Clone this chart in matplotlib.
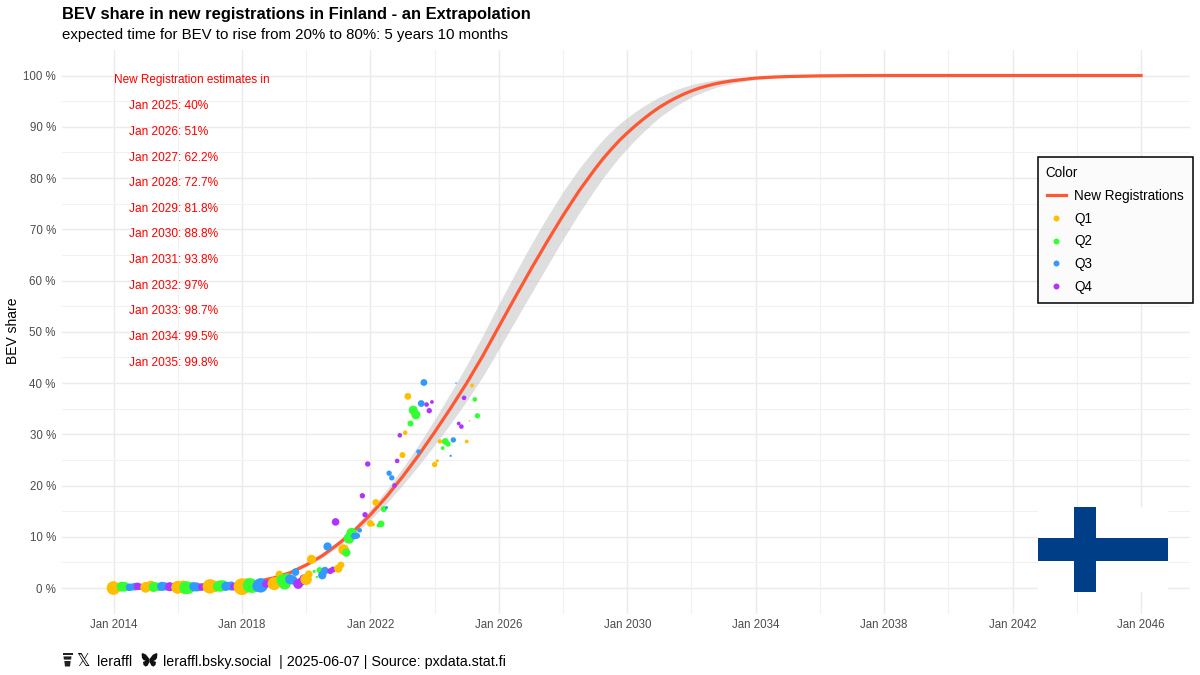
#!/usr/bin/python
# BEV share in new registrations in Finland, monthly points + extrapolated curve
import numpy as np
import matplotlib
matplotlib.use('Agg')
import matplotlib.pyplot as plt
from matplotlib.lines import Line2D
from matplotlib.patches import Rectangle, Polygon

plt.rcParams['font.family'] = ['Liberation Sans', 'DejaVu Sans']

# monthly BEV share (%), Jan 2014 - May 2025
share_2014 = [0.0, 0.06, 0.06, 0.26, 0.26, 0.2, 0.13, 0.2, 0.26, 0.32, 0.26, 0.2]
share_2015 = [0.13, 0.32, 0.39, 0.2, 0.26, 0.2, 0.32, 0.32, 0.26, 0.26, 0.2, 0.2]
share_2016 = [0.13, 0.2, 0.2, 0.06, 0.06, 0.13, 0.26, 0.2, 0.13, 0.2, 0.26, 0.26]
share_2017 = [0.32, 0.39, 0.26, 0.32, 0.39, 0.46, 0.32, 0.39, 0.39, 0.26, 0.32, 0.32]
share_2018 = [0.26, 0.59, 0.59, 0.52, 0.39, 0.39, 0.39, 0.52, 0.59, 0.78, 0.91, 1.04]
share_2019 = [0.85, 1.05, 2.66, 1.56, 0.9, 2.0, 1.7, 1.56, 3.1, 0.8, 1.2, 1.9]
share_2020 = [1.7, 2.7, 5.6, 3.25, 2.15, 3.5, 2.5, 3.4, 8.1, 3.3, 3.6, 12.9]
share_2021 = [3.8, 4.5, 7.5, 6.9, 9.7, 10.7, 10.15, 10.2, 11.25, 18.0, 14.3, 24.2]
share_2022 = [12.6, 12.4, 16.7, 12.2, 12.5, 15.4, 15.7, 22.4, 21.5, 20.0, 24.8, 29.8]
share_2023 = [25.95, 30.3, 37.4, 32.1, 34.7, 33.8, 26.6, 36.0, 40.1, 35.8, 34.6, 36.3]
share_2024 = [24.1, 24.8, 28.6, 27.3, 28.6, 28.1, 25.8, 28.9, 40.0, 32.1, 31.5, 37.1]
share_2025 = [28.6, 32.6, 39.5, 36.8, 33.6]

# all new registrations (thousands, rough)
regs_2014 = [9.7, 3, 3, 5, 5, 3, 3, 2.5, 3, 3, 2, 2]
regs_2015 = [5.9, 4.3, 5.9, 5.1, 4, 3, 4.3, 3.6, 3, 4.3, 3, 2.5]
regs_2016 = [8.7, 5.9, 8.7, 8.7, 7.7, 5, 4.3, 4.3, 3, 3, 2.5, 2.5]
regs_2017 = [10.8, 7.7, 5.9, 5.1, 6.75, 5.9, 4.3, 3.6, 4.3, 3, 3, 3]
regs_2018 = [14.5, 7.7, 9.7, 10.8, 9.7, 5, 6.75, 10.8, 3.6, 3, 2.5, 2.5]
regs_2019 = [8.7, 5.9, 3, 6.75, 7.7, 4.3, 5.1, 4.3, 3, 5.1, 3.6, 3]
regs_2020 = [6.75, 3, 4.3, 0.5, 0.27, 1.9, 3.6, 3, 3.6, 1.9, 1.9, 3]
regs_2021 = [3.6, 2.4, 5.9, 3.6, 5.9, 5.9, 2.4, 1.9, 1.1, 1.5, 1.5, 1.5]
regs_2022 = [2.4, 0.75, 2.4, 0.75, 2.4, 1.9, 0.5, 1.5, 1.5, 1.1, 1.1, 1.1]
regs_2023 = [1.9, 1.1, 2.4, 1.9, 4.3, 4.3, 1.1, 2.4, 2.4, 1.1, 1.5, 0.75]
regs_2024 = [1.5, 0.5, 1.1, 0.75, 2.4, 1.5, 0.27, 1.5, 0.12, 0.75, 1.1, 1.1]
regs_2025 = [0.75, 0.12, 0.75, 1.1, 1.5]

# extrapolated curve and its band
curve_years = [2014, 2015, 2016, 2017, 2017.5, 2018, 2018.5, 2019, 2019.5, 2020, 2020.5,
               2021, 2021.5, 2022, 2022.5, 2023, 2023.5, 2024, 2024.5, 2025, 2025.5,
               2026, 2026.5, 2027, 2027.5, 2028, 2028.5, 2029, 2029.25, 2029.5, 2029.75,
               2030, 2030.25, 2030.5, 2030.75, 2031, 2031.25, 2031.5, 2031.75,
               2032, 2032.25, 2032.5, 2032.75, 2033, 2033.25, 2033.5, 2033.75,
               2034, 2034.5, 2035, 2036, 2037, 2038, 2046]
curve_share = [0.05, 0.08, 0.12, 0.25, 0.42, 0.8, 1.3, 2.0, 3.0, 4.5, 6.3,
               8.6, 11.2, 14.3, 17.8, 21.7, 25.9, 30.4, 35.1, 40.0, 45.3,
               51.0, 56.65, 62.2, 67.55, 72.7, 77.5, 81.8, 83.8, 85.6, 87.3,
               88.8, 90.2, 91.5, 92.7, 93.8, 94.75, 95.6, 96.35,
               97.0, 97.55, 98.0, 98.4, 98.7, 98.95, 99.15, 99.33,
               99.5, 99.68, 99.8, 99.93, 99.98, 100, 100]
band_half = [0, 0, 0, 0, 0.03, 0.06, 0.1, 0.15, 0.22, 0.3, 0.42,
             0.55, 0.75, 1.0, 1.3, 1.65, 2.05, 2.5, 3.0, 3.5, 4.0,
             4.4, 4.65, 4.8, 4.8, 4.65, 4.35, 3.95, 3.75, 3.5, 3.25,
             3.0, 2.75, 2.5, 2.25, 2.0, 1.8, 1.6, 1.4,
             1.2, 1.05, 0.9, 0.75, 0.62, 0.52, 0.43, 0.35,
             0.28, 0.18, 0.1, 0.04, 0.01, 0, 0]

estimate_labels = ['Jan 2025: 40%', 'Jan 2026: 51%', 'Jan 2027: 62.2%', 'Jan 2028: 72.7%',
                   'Jan 2029: 81.8%', 'Jan 2030: 88.8%', 'Jan 2031: 93.8%', 'Jan 2032: 97%',
                   'Jan 2033: 98.7%', 'Jan 2034: 99.5%', 'Jan 2035: 99.8%']

quarter_colors = ['#FFBF00', '#33FF33', '#3399FF', '#B033FF']
quarter_names = ['Q1', 'Q2', 'Q3', 'Q4']
curve_color = '#FF5733'

share = np.array(share_2014 + share_2015 + share_2016 + share_2017 + share_2018 + share_2019
                 + share_2020 + share_2021 + share_2022 + share_2023 + share_2024 + share_2025)
regs = np.array(regs_2014 + regs_2015 + regs_2016 + regs_2017 + regs_2018 + regs_2019
                + regs_2020 + regs_2021 + regs_2022 + regs_2023 + regs_2024 + regs_2025)
month_no = np.arange(len(share))
years = 2014 + month_no / 12.0
colors = [quarter_colors[(m % 12) // 3] for m in month_no]

W, H = 1200.0, 675.0
fig = plt.figure(figsize=(12, 6.75), dpi=100)
ax = fig.add_axes([62 / W, 1 - 614 / H, (1190 - 62) / W, (614 - 50) / H])

ax.set_xlim(2012.396, 2047.525)
ax.set_ylim(-5.07, 104.98)
for s in ax.spines.values():
    s.set_visible(False)
ax.set_axisbelow(True)

ax.set_xticks(np.arange(2014, 2047, 4))
ax.set_xticklabels(['Jan %d' % y for y in range(2014, 2047, 4)])
ax.set_xticks(np.arange(2016, 2046, 4), minor=True)
ax.set_yticks(np.arange(0, 101, 10))
ax.set_yticklabels(['%d %%' % v for v in range(0, 101, 10)])
ax.set_yticks(np.arange(5, 100, 10), minor=True)
ax.tick_params(which='both', length=0)
ax.tick_params(axis='x', labelsize=8.3, labelcolor='#4d4d4d', pad=3.5)
ax.tick_params(axis='y', labelsize=8.3, labelcolor='#4d4d4d', pad=4.5)
ax.grid(which='major', color='#ebebeb', linewidth=1.05)
ax.grid(which='minor', color='#f1f1f1', linewidth=0.75)
fig.text(13 / W, 1 - 331 / H, 'BEV share', fontsize=10, rotation=90, ha='center', va='center')

ax.fill_between(curve_years, np.array(curve_share) - np.array(band_half),
                np.array(curve_share) + np.array(band_half),
                color='#c4c4c4', alpha=0.55, linewidth=0, zorder=2)
ax.plot(curve_years, curve_share, color=curve_color, linewidth=2.3, zorder=3)
ax.scatter(years, share, s=regs * 10, c=colors, linewidths=0, zorder=4)

ax.text(2014, 99.2, 'New Registration estimates in', color='red', fontsize=8.5,
        ha='left', va='center', zorder=5)
for i, label in enumerate(estimate_labels):
    ax.text(2014.48, 94.0 - 5 * i, label, color='red', fontsize=8.55,
            ha='left', va='center', zorder=5)

handles = [Line2D([], [], color=curve_color, linewidth=2.3, label='New Registrations')]
for c, q in zip(quarter_colors, quarter_names):
    handles.append(Line2D([], [], linestyle='none', marker='o', markersize=4.3,
                          markerfacecolor=c, markeredgewidth=0, label=q))
leg = ax.legend(handles=handles, title='Color', loc='upper left',
                bbox_to_anchor=(1037.5 / W, 1 - 157 / H), bbox_transform=fig.transFigure,
                borderaxespad=0, fontsize=9.75, title_fontsize=9.75, alignment='left',
                fancybox=False, framealpha=1, facecolor='#fbfbfb', edgecolor='black',
                labelspacing=0.64, handlelength=1.4, handletextpad=0.6,
                borderpad=0.7)
leg.get_frame().set_linewidth(1.1)
leg.get_title().set_position((-2, 0))
leg.set_zorder(6)

fig.text(62 / W, 1 - 14 / H, 'BEV share in new registrations in Finland - an Extrapolation',
         fontsize=11.9, fontweight='bold', ha='left', va='center')
fig.text(62 / W, 1 - 35.5 / H, 'expected time for BEV to rise from 20% to 80%: 5 years 10 months',
         fontsize=10.8, ha='left', va='center')

# overlay in pixel coordinates for flag and footer icons
over = fig.add_axes([0, 0, 1, 1])
over.set_xlim(0, W)
over.set_ylim(H, 0)
over.axis('off')
over.patch.set_alpha(0)

flag_blue = '#003F87'
over.add_patch(Rectangle((1038, 507), 130, 85, color='white', linewidth=0))
over.add_patch(Rectangle((1074, 507), 22, 85, color=flag_blue, linewidth=0))
over.add_patch(Rectangle((1038, 538), 130, 23, color=flag_blue, linewidth=0))

# coffee cup
over.add_patch(Rectangle((62.5, 653), 10, 2.4, color='#222222', linewidth=0))
over.add_patch(Polygon([(63.5, 656.4), (71.5, 656.4), (71.1, 659.6), (63.9, 659.6)],
                       color='#222222', linewidth=0))
over.add_patch(Polygon([(64.3, 661), (70.7, 661), (70, 666.5), (65, 666.5)],
                       color='#222222', linewidth=0))
# butterfly
wing_l = [(149.5, 659), (146, 654.6), (142.5, 653), (141.6, 654), (142, 658), (143.6, 660.2),
          (145.6, 660.8), (143, 662), (143.5, 665), (145.6, 666.6), (147.6, 665.6), (149.5, 662)]
wing_r = [(299 - x, y) for x, y in wing_l]
over.add_patch(Polygon(wing_l, color='#111111', linewidth=0))
over.add_patch(Polygon(wing_r, color='#111111', linewidth=0))

over.text(76.5, 661.5, '\U0001D54F', family='DejaVu Sans', fontsize=12, ha='left', va='center')
over.text(97, 662, 'leraffl', fontsize=10.25, ha='left', va='center')
over.text(163, 662, 'leraffl.bsky.social  | 2025-06-07 | Source: pxdata.stat.fi',
          fontsize=10.25, ha='left', va='center')

plt.savefig('out.png', dpi=100)
